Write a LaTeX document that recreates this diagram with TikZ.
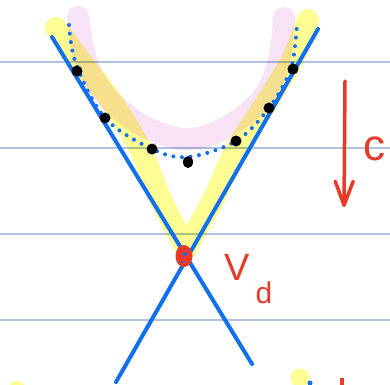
\documentclass[tikz,border=0pt]{standalone}
\usepackage{fontspec}
\setmainfont{Liberation Sans}
\usetikzlibrary{arrows.meta,shapes.geometric}
\definecolor{rule}{RGB}{176,196,222}
\definecolor{pen}{RGB}{18,112,238}
\definecolor{ink}{RGB}{232,58,40}
\definecolor{hiy}{RGB}{253,253,148}
\definecolor{hip}{RGB}{248,226,246}
\tikzset{
  ruleline/.style={draw=rule,line width=1.4pt},
  blueline/.style={draw=pen,line width=4pt,line cap=round},
  yellowhl/.style={draw=hiy,line width=22pt,line cap=round,line join=round,blend mode=multiply},
  pinkhl/.style={draw=hip,line width=22pt,line cap=round,line join=round,blend mode=multiply},
  dotcurve/.style={draw=pen,line width=4pt,line cap=round,dash pattern=on 0pt off 8.6pt},
  bdot/.style={fill=black,circle,inner sep=0pt,minimum size=11pt},
  redtext/.style={text=ink,inner sep=0pt},
  redarrow/.style={draw=ink,line width=3.5pt,line cap=round,-{Straight Barb[length=24pt,width=18pt,line width=3.5pt,round]}}
}
\begin{document}
\begin{tikzpicture}[x=1pt,y=-1pt]
\useasboundingbox (0,0) rectangle (390,384);
\fill[white] (0,0) rectangle (390,384);
% ruled lines
\foreach \yy/\nm in {62/r1,148/r2,234/r3,320/r4}{
  \coordinate (\nm a) at (0,\yy);
  \coordinate (\nm b) at (390,\yy);
  \draw[ruleline] (\nm a) -- (\nm b);
}
% highlights
\draw[yellowhl] plot[smooth,tension=0.5] coordinates {(56,28) (80,60) (112,102) (141,150) (161,200) (186,248)}
  -- plot[smooth,tension=0.5] coordinates {(186,248) (213,200) (236,150) (268,100) (293,58) (308,20)};
\draw[pinkhl] plot[smooth,tension=0.6] coordinates {(78,17) (86,60) (105,95) (135,121) (165,135) (190,139) (215,133) (245,115) (268,90) (280,55) (284,18)};
\fill[hiy,blend mode=multiply] (300,378) circle (9.5);
\fill[hiy,blend mode=multiply] (17,390) circle (9);
% asymptote lines
\coordinate (l1a) at (52,37);
\coordinate (l1b) at (252,364);
\coordinate (l2a) at (318,29);
\coordinate (l2b) at (116,382);
\draw[blueline] (l1a) -- (l1b);
\draw[blueline] (l2a) -- (l2b);
% dotted curve
\draw[dotcurve] plot[smooth,tension=0.55] coordinates {(69,25) (76,64) (105,118) (152,149) (188,157) (236,141) (269,108) (291,68) (297,24)};
% data points
\node[bdot] (p1) at (77,71) {};
\node[bdot] (p2) at (105,118) {};
\node[bdot] (p3) at (152,149) {};
\node[fill=black,ellipse,inner sep=0pt,minimum width=10pt,minimum height=12pt] (p4) at (188,162) {};
\node[bdot] (p5) at (236,141) {};
\node[bdot] (p6) at (269,108) {};
\node[bdot] (p7) at (293,69) {};
% vertex
\fill[ink] (184,256) ellipse (8.5 and 11);
\fill[pen] (185,254) circle (2);
\fill[pen] (182,262) circle (1.3);
\node[redtext,font=\fontsize{38}{38}\selectfont] (V) at (237,267) {V};
\node[redtext,font=\fontsize{30}{30}\selectfont] (d) at (264,293) {d};
% arrow c
\coordinate (ca) at (345,81);
\coordinate (cb) at (344,207);
\draw[redarrow] (ca) -- (cb);
\node[redtext,font=\fontsize{44}{44}\selectfont] (c) at (374,149) {c};
% bottom marks
\fill[pen] (310,383) circle (2.5);
\coordinate (ma) at (342,378);
\coordinate (mb) at (342,386);
\draw[draw=ink,line width=3.5pt] (ma) -- (mb);
\end{tikzpicture}
\end{document}
